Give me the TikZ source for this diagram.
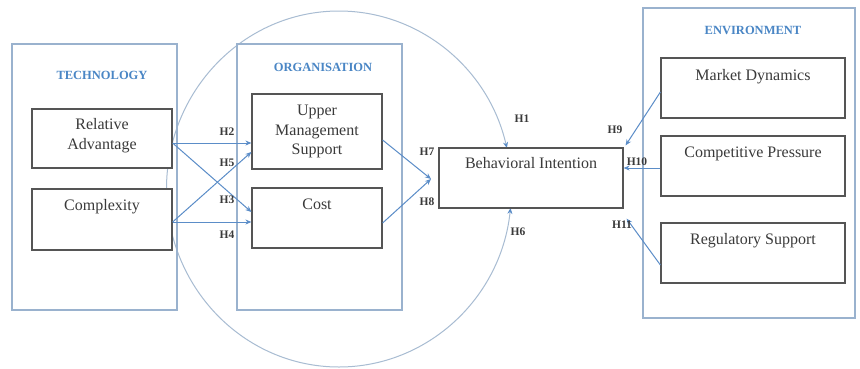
\documentclass[tikz,border=0pt]{standalone}
\usepackage{fontspec}
\setmainfont{Liberation Serif}
\usetikzlibrary{arrows.meta}
\definecolor{grpline}{HTML}{9AB2CE}
\definecolor{boxline}{HTML}{555555}
\definecolor{arr}{HTML}{5B8DC8}
\definecolor{hdr}{HTML}{4A86C5}
\definecolor{txt}{HTML}{3A3A3A}
\definecolor{circ}{HTML}{A8BCD2}
\begin{document}
\begin{tikzpicture}[x=1pt,y=-1pt,
  group/.style={draw=grpline, line width=1.2pt, inner sep=0pt, rectangle},
  box/.style={draw=boxline, line width=1.2pt, fill=white, inner sep=0pt, rectangle},
  hdrtext/.style={text=hdr, font=\fontsize{12.5}{14}\selectfont\bfseries, inner sep=0pt},
  boxtext/.style={text=txt, font=\fontsize{16}{19.5}\selectfont, align=center, inner sep=0pt},
  hlab/.style={text=txt, font=\fontsize{11.5}{13}\selectfont\bfseries, inner sep=0pt},
  link/.style={draw=arr, line width=1pt, -{Stealth[length=6pt,width=5pt]}},
  ring/.style={draw=circ, line width=1pt, -{Stealth[length=6pt,width=5pt,color=arr]}},
]
\useasboundingbox (0,0) rectangle (860,368);
\fill[white] (0,0) rectangle (860,368);

% the big ellipse (two arcs ending at Behavioral Intention)
\coordinate (ringleft) at (166.5,189);
\draw[ring] (ringleft) arc[start angle=180, end angle=346.7, x radius=172.5, y radius=178];
\draw[ring] (ringleft) arc[start angle=180, end angle=6.1, x radius=172.5, y radius=178];

% group frames
\node[group, minimum width=165pt, minimum height=266pt] (tech) at (94.5,177) {};
\node[hdrtext] (techlbl) at (102,75) {TECHNOLOGY};
\node[group, minimum width=165pt, minimum height=266pt] (org) at (319.5,177) {};
\node[hdrtext] (orglbl) at (323,67) {ORGANISATION};
\node[group, minimum width=212pt, minimum height=310pt] (env) at (749,163) {};
\node[hdrtext] (envlbl) at (753,30) {ENVIRONMENT};

% construct boxes
\node[box, minimum width=140pt, minimum height=59pt] (ra) at (102,138.5) {};
\node[box, minimum width=140pt, minimum height=61pt] (cx) at (102,219.5) {};
\node[box, minimum width=130pt, minimum height=75pt] (ums) at (317,131.5) {};
\node[box, minimum width=130pt, minimum height=60pt] (cost) at (317,218) {};
\node[box, minimum width=184pt, minimum height=60pt] (bi) at (531,178) {};
\node[box, minimum width=184pt, minimum height=60pt] (md) at (753,88) {};
\node[box, minimum width=184pt, minimum height=60pt] (cp) at (753,166) {};
\node[box, minimum width=184pt, minimum height=60pt] (rs) at (753,253) {};

% box texts
\node[boxtext] (ratxt) at (102,135.5) {Relative\\Advantage};
\node[boxtext, anchor=base] (cxtxt) at ([yshift=-22pt]cx.north) {Complexity};
\node[boxtext] (umstxt) at (317,131.5) {Upper\\Management\\Support};
\node[boxtext, anchor=base] (costtxt) at ([yshift=-22pt]cost.north) {Cost};
\node[boxtext, anchor=base] (bitxt) at ([yshift=-21pt]bi.north) {Behavioral Intention};
\node[boxtext, anchor=base] (mdtxt) at ([yshift=-23pt]md.north) {Market Dynamics};
\node[boxtext, anchor=base] (cptxt) at ([yshift=-22pt]cp.north) {Competitive Pressure};
\node[boxtext, anchor=base] (rstxt) at ([yshift=-22pt]rs.north) {Regulatory Support};

% connectors
\draw[link] ([yshift=-4.5pt]ra.east) -- ([yshift=-11.5pt]ums.west);
\draw[link] ([yshift=-2.5pt]cx.east) -- ([yshift=-20.5pt]ums.west);
\draw[link] ([yshift=-4.5pt]ra.east) -- ([yshift=6pt]cost.west);
\draw[link] ([yshift=-2.5pt]cx.east) -- ([yshift=-4pt]cost.west);
\coordinate (conv) at (431,179);
\draw[link] ([yshift=-8.5pt]ums.east) -- (conv);
\draw[link] ([yshift=-5pt]cost.east) -- (conv);
\draw[link] ([yshift=-4pt]md.west) -- ([xshift=2pt,yshift=2pt]bi.north east);
\coordinate (h10s) at ([yshift=-2pt]cp.west);
\draw[link] (h10s) -- (h10s -| bi.east);
\draw[link] ([yshift=-12pt]rs.west) -- ([xshift=3pt,yshift=-10pt]bi.south east);

% hypothesis labels
\node[hlab] (h2) at (227,132) {H2};
\node[hlab] (h5) at (227,163) {H5};
\node[hlab] (h3) at (227,200) {H3};
\node[hlab] (h4) at (227,235) {H4};
\node[hlab] (h7) at (427,152) {H7};
\node[hlab] (h8) at (427,202) {H8};
\node[hlab] (h1) at (522,119) {H1};
\node[hlab] (h6) at (518,232) {H6};
\node[hlab] (h9) at (615,130) {H9};
\node[hlab] (h10) at (637,162) {H10};
\node[hlab] (h11) at (622,225) {H11};
\end{tikzpicture}
\end{document}
